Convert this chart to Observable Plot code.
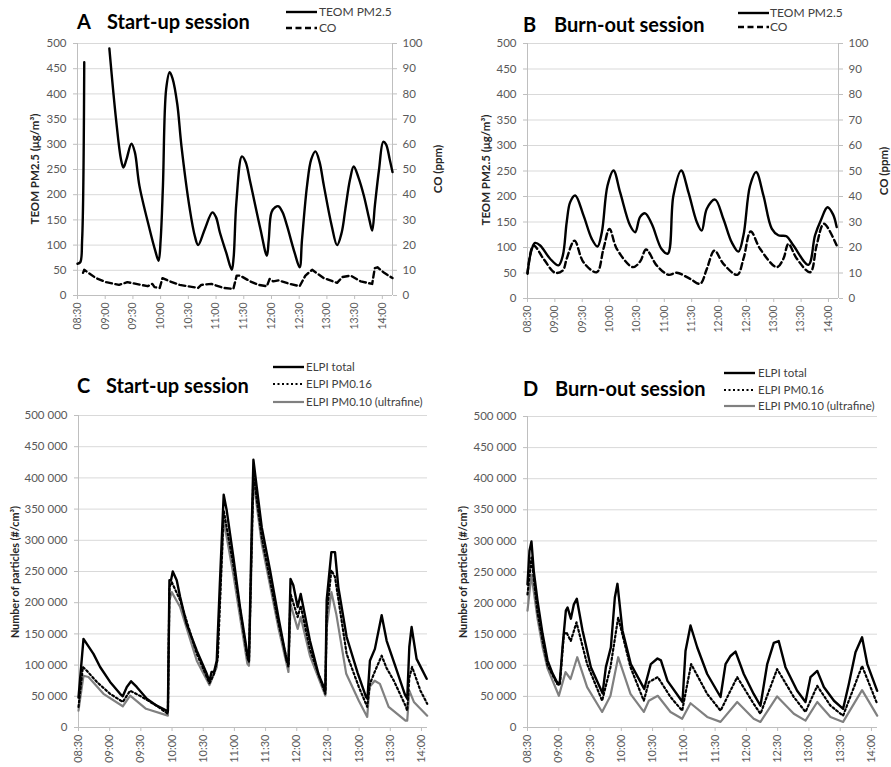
<!DOCTYPE html>
<html>
<head>
<meta charset="utf-8">
<script src="https://cdn.jsdelivr.net/npm/d3@7"></script>
<script src="https://cdn.jsdelivr.net/npm/@observablehq/plot@0.6"></script>
<style>
  body { margin: 0; background: #fff; }
  #wrap { position: relative; width: 891px; height: 767px; overflow: hidden; font-family: Lato, "Liberation Sans", sans-serif; }
  .abs { position: absolute; white-space: nowrap; }
  .ttl { font-size: 20px; font-weight: bold; color: #000; line-height: 24px; }
  .leg { font-size: 12px; color: #404040; line-height: 14px; }
  .leg2 { font-size: 11.5px; color: #404040; line-height: 14px; }
  .ytitle { font-size: 11.5px; font-weight: bold; color: #262626; transform: translate(-50%, -50%) rotate(-90deg); }
  .ytitle2 { font-size: 10.8px; font-weight: bold; color: #262626; transform: translate(-50%, -50%) rotate(-90deg); }
  .panel { position: absolute; }
</style>
</head>
<body>
<div id="wrap"></div>
<script>
// ---------- DATA (minutes after 08:30) ----------
const timeTicks = [0, 30, 60, 90, 120, 150, 180, 210, 240, 270, 300, 330];

// Panel A – Start-up session
const teomA_t = [0, 3, 5, 7.3, 20, 34.5, 41.7, 47, 49.7, 53, 58.4, 62, 67, 78, 84, 87.8, 90, 92.5, 96, 99.8, 103, 108, 112.5, 121.5, 127, 130.6, 137.9, 146, 150, 154, 161, 167, 169, 172, 178, 182, 187, 198, 205, 207, 210, 214, 217.7, 222, 226.7, 235, 240.5, 243, 248.5, 253, 257.6, 262, 266.7, 275, 281, 286, 290, 295, 299, 304, 310, 316, 319, 322, 326.5, 331, 334, 338, 341];
const teomA_v = [63, 66, 110, 463, null, 490, 350, 271, 254, 270, 301, 285, 218, 132, 90, 69, 110, 218, 410, 443, 430, 380, 297, 172, 118, 100, 132, 165, 155, 126, 85, 51, 75, 185, 276, 265, 225, 132, 79, 110, 165, 175, 177, 165, 139, 85, 56, 110, 218, 270, 286, 265, 218, 140, 100, 125, 172, 230, 256, 235, 198, 150, 129, 180, 251, 305, 300, 270, 245];
const coA_t = [6, 7.3, 20, 31, 45, 54, 63.5, 76, 81, 83.4, 89, 92, 100, 110.6, 130.6, 134, 145, 158, 168.7, 172.3, 176, 187, 196, 205, 208, 212, 217.7, 230, 240.5, 246.7, 254, 266.7, 281, 286.6, 295.7, 306.6, 319, 321.8, 324.7, 332, 341];
const coA_v = [9, 10.2, 6.9, 5.3, 4.2, 5.3, 4.6, 3.7, 4.6, 3.3, 3.0, 6.9, 5.6, 4.2, 3.0, 4.2, 4.6, 3.0, 2.6, 7.9, 7.9, 5.6, 4.2, 3.7, 6.6, 5.6, 6.0, 4.6, 3.7, 7.9, 10.2, 6.9, 5.0, 7.3, 7.9, 5.6, 4.6, 10.8, 11.2, 9, 6.9];

// Panel B – Burn-out session
const teomB_t = [0, 4.7, 8.4, 13.9, 24.8, 34, 38.7, 43, 46.8, 52.3, 61.4, 70.5, 76.7, 81.5, 87.7, 94.3, 101.6, 112.5, 118, 123.5, 129, 136.3, 147, 153.8, 160, 168.5, 176.5, 185.6, 191, 196.6, 205.7, 214.8, 224, 231.3, 236.8, 244, 250.7, 258.7, 267.8, 275, 284, 291.6, 308, 315.3, 322, 328.9, 335, 339];
const teomB_v = [50, 97, 109, 104, 78, 65, 84, 150, 189, 202, 163, 117, 102, 130, 221, 251, 208, 143, 130, 160, 167, 146, 97, 88, 202, 251, 208, 150, 133, 176, 194, 156, 110, 92, 124, 221, 248, 202, 137, 124, 122, 104, 66, 124, 155, 179, 165, 140];
const coB_t = [0, 6.6, 17.5, 30.3, 38.7, 43, 51.5, 61.4, 76, 83.3, 89.9, 97.9, 115.5, 123.5, 130, 141.8, 154.6, 163.7, 178.3, 189.3, 196.6, 205, 214.8, 230, 236.8, 244.8, 255, 273.3, 280.6, 286, 295.3, 310, 317, 325, 339];
const coB_v = [9.7, 20.8, 15.6, 10.1, 11, 15.6, 22.7, 14.2, 10.3, 19.5, 27.3, 19.5, 12.3, 14.5, 19.2, 12.9, 9.3, 10.1, 7.7, 5.8, 11.6, 18.8, 13.6, 9.3, 15.6, 26.3, 19.5, 12.3, 15.6, 21.4, 15.6, 10.3, 20.8, 29.3, 20.8];

// Panel C – Start-up session (thousand particles / cm3)
const totC_t = [0, 4.8, 8, 14.4, 20.8, 30.4, 40, 42.6, 46.5, 50.6, 56, 65.7, 75.3, 86, 87.5, 89, 90.7, 94.5, 97.8, 104, 113.8, 123.4, 126, 128, 130.4, 133, 136, 139.7, 142.6, 149, 155.4, 162.5, 164, 166.7, 168.3, 171.5, 176.3, 184.3, 192.3, 200.3, 202, 204, 206.7, 210.9, 213.8, 216.3, 222.7, 230.8, 237.5, 238.8, 243.3, 246.8, 250, 258, 268.5, 276.6, 278, 280.4, 285.2, 291.7, 296.5, 304.5, 314, 316.3, 318.3, 320.5, 325.3, 335];
const totC_v = [48, 142, 134, 118, 97, 73, 54, 50, 65, 74, 65, 46, 35, 26, 236, 236, 250, 236, 209, 166, 123, 86, 74, 89, 89, 107, 230, 373, 348, 273, 193, 118, 107, 321, 429, 385, 321, 252, 177, 107, 102, 238, 228, 193, 214, 193, 139, 86, 59, 204, 281, 281, 225, 145, 88, 49, 46, 107, 126, 180, 139, 100, 53, 46, 129, 161, 110, 78];
const p16C_t = [0, 4.2, 8, 17.6, 30.4, 42.6, 49.7, 60, 75, 86, 87.5, 89.7, 97.8, 113.8, 126, 130.4, 134, 139.7, 149, 162.5, 164, 166.7, 168.3, 176.3, 192.3, 202, 204, 210.9, 213.8, 222.7, 237.5, 238.8, 243.3, 246.8, 258, 269.7, 277.8, 280.4, 285.2, 291.7, 296.5, 303.4, 314.6, 316.3, 318.3, 321, 329, 335.5];
const p16C_v = [33, 97, 91, 73, 54, 41, 59, 50, 35, 22, 225, 233, 204, 118, 71, 86, 110, 348, 260, 112, 105, 300, 407, 305, 168, 97, 214, 177, 195, 125, 54, 180, 252, 241, 118, 65, 33, 70, 90, 115, 95, 75, 35, 27, 80, 97, 59, 38];
const p10C_t = [0, 4.8, 9.6, 24, 42.6, 49.7, 65, 86, 87.5, 89.7, 97.8, 113.8, 126, 133, 139.7, 149, 162.5, 164, 166.7, 168.3, 176.3, 192.3, 202, 204, 210.9, 213.8, 222.7, 237.5, 238.8, 243.3, 248, 257.6, 269.7, 277.8, 280, 285, 290, 298.4, 314.6, 316.3, 318.3, 322.7, 335.5];
const p10C_v = [27, 83, 81, 54, 34, 51, 30, 19, 204, 217, 193, 107, 68, 97, 332, 245, 102, 99, 280, 396, 295, 160, 89, 198, 158, 177, 115, 51, 160, 217, 182, 86, 43, 17, 65, 75, 70, 33, 11, 11, 59, 41, 19];

// Panel D – Burn-out session (thousand particles / cm3)
const totD_t = [0, 1.9, 3.8, 6.1, 9.6, 14.4, 19.2, 24, 28.8, 31, 33.6, 36.8, 38.4, 41.6, 44.5, 47.3, 52.8, 60.8, 72, 75.2, 80, 83.8, 86.3, 91.1, 99.1, 112, 118.3, 124.7, 128, 134.3, 148.7, 151.6, 156.4, 162.8, 172.4, 185.2, 190, 194.8, 199.6, 207.5, 217, 223.5, 230, 236.3, 241, 247.5, 258.7, 266.7, 271.5, 278, 284.3, 294, 302.8, 308.3, 314.7, 321, 326, 335.5];
const totD_v = [230, 284, 299, 250, 204, 151, 108, 87, 71, 73, 129, 188, 193, 175, 198, 207, 156, 97, 55, 97, 129, 209, 231, 156, 102, 62, 102, 111, 108, 75, 41, 123, 164, 129, 86, 49, 102, 115, 122, 86, 54, 35, 102, 136, 139, 97, 59, 41, 81, 91, 65, 43, 30, 70, 121, 145, 102, 59];
const p16D_t = [0, 3.8, 9.6, 14.4, 19.2, 28.5, 31, 34.9, 37.4, 41.5, 47, 57.2, 71.6, 79.6, 87, 98.8, 111.6, 116.4, 125, 137.2, 148.4, 157, 172.4, 185.2, 201.2, 217, 223.5, 239.5, 255.5, 266.7, 278, 290.7, 302.8, 321, 335.5];
const p16D_v = [214, 273, 185, 140, 100, 70, 68, 150, 153, 139, 169, 102, 43, 97, 177, 97, 43, 73, 81, 49, 27, 102, 54, 27, 81, 38, 22, 94, 49, 25, 67, 35, 19, 99, 38];
const p10D_t = [0, 3.8, 9.6, 14.4, 19.2, 30.1, 36.5, 41.3, 47.7, 57.2, 71.6, 79.6, 87, 98.8, 111.6, 116.4, 125, 137.2, 148.4, 156.4, 172.4, 185.2, 201.2, 217, 223.5, 239.5, 255.5, 266.7, 278, 290.7, 302.8, 321, 335.5];
const p10D_v = [188, 246, 175, 130, 95, 51, 89, 78, 113, 65, 25, 51, 113, 54, 25, 43, 51, 25, 14, 39, 17, 9, 41, 14, 9, 50, 22, 11, 41, 17, 9, 60, 19];

const pmTicks = [0, 50, 100, 150, 200, 250, 300, 350, 400, 450, 500];
const countTicks = [0, 50000, 100000, 150000, 200000, 250000, 300000, 350000, 400000, 450000, 500000];

// ---------- helpers ----------
const zip = (ts, vs, k = 1) => ts.map((t, i) => ({t, v: vs[i] == null ? null : vs[i] * k}));
const fmtTime = t => { const m = 510 + t; return String(Math.floor(m / 60)).padStart(2, "0") + ":" + String(m % 60).padStart(2, "0"); };
const spaceFmt = d3.formatLocale({decimal: ".", thousands: "\u00a0", grouping: [3], currency: ["", ""]}).format(",d");
const GRID = "#d9d9d9", AXIS = "#bfbfbf", TXT = "#595959";
const wrap = document.getElementById("wrap");

function place(el, left, top) {
  el.classList.add("panel");
  el.style.left = left + "px"; el.style.top = top + "px";
  wrap.appendChild(el);
}
function text(str, cls, left, top) {
  const d = document.createElement("div");
  d.className = "abs " + cls; d.textContent = str;
  d.style.left = left + "px"; d.style.top = top + "px";
  wrap.appendChild(d); return d;
}
function swatch(left, cy, w, style) {
  const ns = "http://www.w3.org/2000/svg";
  const s = document.createElementNS(ns, "svg");
  s.setAttribute("width", w); s.setAttribute("height", 8);
  s.style.position = "absolute"; s.style.left = left + "px"; s.style.top = (cy - 4) + "px";
  const l = document.createElementNS(ns, "line");
  l.setAttribute("x1", 0); l.setAttribute("x2", w); l.setAttribute("y1", 4); l.setAttribute("y2", 4);
  l.setAttribute("stroke", style.stroke); l.setAttribute("stroke-width", style.width);
  if (style.dash) l.setAttribute("stroke-dasharray", style.dash);
  s.appendChild(l); wrap.appendChild(s);
}

const baseStyle = {fontFamily: "Lato, 'Liberation Sans', sans-serif", fontSize: "11px", color: TXT, background: "transparent", overflow: "visible"};

function pmPanel(teom, co, opts) {
  const xmax = 341;
  return Plot.plot({
    width: opts.width, height: 292,
    marginLeft: opts.ml, marginRight: opts.mr, marginTop: 8, marginBottom: opts.mb,
    style: baseStyle,
    x: {domain: [0, xmax]},
    y: {domain: [0, 500]},
    marks: [
      Plot.gridY(pmTicks.slice(1), {stroke: GRID, strokeOpacity: 1}),
      Plot.ruleX([0], {stroke: AXIS}),
      Plot.ruleX([xmax], {stroke: AXIS}),
      Plot.ruleY([0], {stroke: AXIS}),
      Plot.axisY(pmTicks, {anchor: "left", tickSize: 4, tickPadding: 7, stroke: AXIS, fill: TXT, label: null, fontSize: 11.5}),
      Plot.axisY(pmTicks, {anchor: "right", tickSize: 4, tickPadding: 6, stroke: AXIS, fill: TXT, label: null, fontSize: 11.5, tickFormat: d => d / 5}),
      Plot.axisX(timeTicks, {anchor: "bottom", tickRotate: -90, tickSize: 4, tickPadding: 3, stroke: AXIS, fill: TXT, label: null, tickFormat: fmtTime, fontSize: 10.5}),
      Plot.line(co, {x: "t", y: "v", stroke: "#000", strokeWidth: 2.4, strokeDasharray: "6,3.5", curve: opts.coCurve}),
      Plot.line(teom, {x: "t", y: "v", stroke: "#000", strokeWidth: 2.4, curve: "catmull-rom"})
    ]
  });
}

function elpiPanel(tot, p16, p10, opts) {
  const xmax = 335.8;
  return Plot.plot({
    width: opts.width, height: 367,
    marginLeft: opts.ml, marginRight: opts.mr, marginTop: opts.mt, marginBottom: 40,
    style: baseStyle,
    x: {domain: [0, xmax]},
    y: {domain: [0, 500000]},
    marks: [
      Plot.gridY(countTicks.slice(1), {stroke: GRID, strokeOpacity: 1}),
      Plot.ruleX([0], {stroke: AXIS}),
      Plot.ruleY([0], {stroke: AXIS}),
      Plot.axisY(countTicks, {anchor: "left", tickSize: 4, tickPadding: 7, stroke: AXIS, fill: TXT, label: null, fontSize: 11.5, tickFormat: spaceFmt}),
      Plot.axisX(timeTicks, {anchor: "bottom", tickRotate: -90, tickSize: 4, tickPadding: 3, stroke: AXIS, fill: TXT, label: null, tickFormat: fmtTime, fontSize: 11}),
      Plot.line(p10, {x: "t", y: "v", stroke: "#808080", strokeWidth: 2.2}),
      Plot.line(p16, {x: "t", y: "v", stroke: "#000", strokeWidth: 2.2, strokeDasharray: "2,2.5"}),
      Plot.line(tot, {x: "t", y: "v", stroke: "#000", strokeWidth: 2.4})
    ]
  });
}

// ---------- Panels ----------
place(pmPanel(zip(teomA_t, teomA_v), zip(coA_t, coA_v, 5), {width: 450, ml: 77, mr: 58, mb: 32, coCurve: "linear"}), 0, 35);
place(pmPanel(zip(teomB_t, teomB_v), zip(coB_t, coB_v, 5), {width: 451, ml: 87, mr: 53, mb: 29, coCurve: "catmull-rom"}), 440, 35);
place(elpiPanel(zip(totC_t, totC_v, 1000), zip(p16C_t, p16C_v, 1000), zip(p10C_t, p10C_v, 1000), {width: 450, ml: 78, mr: 23, mt: 15}), 0, 400);
place(elpiPanel(zip(totD_t, totD_v, 1000), zip(p16D_t, p16D_v, 1000), zip(p10D_t, p10D_v, 1000), {width: 451, ml: 87, mr: 14, mt: 16}), 440, 400);

// ---------- Titles ----------
text("A", "ttl", 77, 9); text("Start-up session", "ttl", 107, 9);
text("B", "ttl", 523, 12); text("Burn-out session", "ttl", 554, 12);
text("C", "ttl", 77, 373); text("Start-up session", "ttl", 106, 373);
text("D", "ttl", 523, 376); text("Burn-out session", "ttl", 555, 376);

// ---------- Legends ----------
const solid = {stroke: "#000", width: 2.4}, dashed = {stroke: "#000", width: 2.4, dash: "6,3.5"};
const dotted = {stroke: "#000", width: 2.2, dash: "2,2.5"}, grey = {stroke: "#808080", width: 2.2};
swatch(286, 12, 31, solid); text("TEOM PM2.5", "leg", 319, 5);
swatch(286, 28, 31, dashed); text("CO", "leg", 319, 21);
swatch(738, 13, 31, solid); text("TEOM PM2.5", "leg", 770, 6);
swatch(738, 27, 31, dashed); text("CO", "leg", 770, 20);
swatch(273, 367, 31, solid); text("ELPI total", "leg2", 306, 360);
swatch(273, 384, 31, dotted); text("ELPI PM0.16", "leg2", 306, 377);
swatch(273, 402, 31, grey); text("ELPI PM0.10 (ultrafine)", "leg2", 306, 395);
swatch(724, 373, 31, solid); text("ELPI total", "leg2", 758, 366);
swatch(724, 390, 31, dotted); text("ELPI PM0.16", "leg2", 758, 383);
swatch(724, 406, 31, grey); text("ELPI PM0.10 (ultrafine)", "leg2", 758, 399);

// ---------- Axis titles ----------
text("TEOM PM2.5 (μg/m³)", "ytitle", 34, 169);
text("CO (ppm)", "ytitle", 437, 169);
text("TEOM PM2.5 (μg/m³)", "ytitle", 485, 170);
text("CO (ppm)", "ytitle", 883, 171);
text("Number of particles (#/cm³)", "ytitle2", 14, 572);
text("Number of particles (#/cm³)", "ytitle2", 462, 572);
</script>
</body>
</html>
